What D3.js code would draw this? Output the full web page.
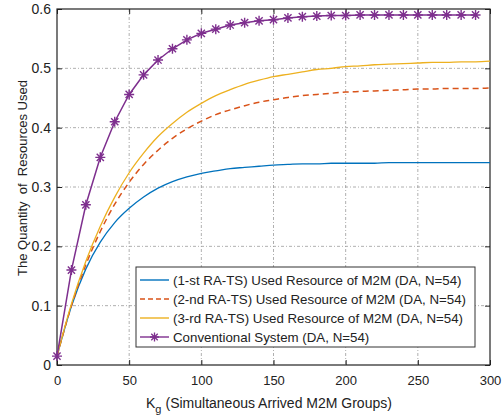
<!DOCTYPE html>
<html><head><meta charset="utf-8">
<script src="https://cdn.jsdelivr.net/npm/d3@7"></script>
<style>
body{margin:0;background:#fff;}
text{font-family:"Liberation Sans",Arial,sans-serif;fill:#222;}
</style></head>
<body><svg id="c" width="504" height="416"></svg>
<script>
const kValues = [0,10,20,30,40,50,60,70,80,90,100,110,120,130,140,150,160,170,180,190,200,210,220,230,240,250,260,270,280,290,300];
const ra1 = [0.015,0.099,0.162,0.207,0.240,0.264,0.283,0.298,0.309,0.317,0.323,0.327,0.331,0.333,0.335,0.337,0.338,0.339,0.339,0.340,0.340,0.340,0.340,0.341,0.341,0.341,0.341,0.341,0.341,0.341,0.341];
const ra2 = [0.015,0.100,0.169,0.225,0.271,0.308,0.338,0.362,0.382,0.398,0.411,0.422,0.430,0.437,0.443,0.447,0.451,0.454,0.456,0.458,0.460,0.461,0.462,0.463,0.464,0.465,0.465,0.466,0.466,0.466,0.467];
const ra3 = [0.015,0.103,0.175,0.234,0.283,0.324,0.357,0.385,0.407,0.426,0.441,0.454,0.464,0.473,0.480,0.486,0.490,0.494,0.498,0.500,0.503,0.504,0.506,0.507,0.508,0.509,0.510,0.510,0.511,0.511,0.512];
const convK = [0,10,20,30,40,50,60,70,80,90,100,110,120,130,140,150,160,170,180,190,200,210,220,230,240,250,260,270,280,290];
const conv = [0.015,0.160,0.270,0.350,0.410,0.456,0.489,0.514,0.533,0.548,0.559,0.566,0.573,0.577,0.580,0.582,0.585,0.587,0.588,0.589,0.589,0.590,0.590,0.590,0.590,0.590,0.590,0.590,0.590,0.590];
const xTicks = [0,50,100,150,200,250,300];
const yTicks = [0,0.1,0.2,0.3,0.4,0.5,0.6];
const legendLabels = ["(1-st RA-TS) Used Resource of M2M (DA, N=54)","(2-nd RA-TS) Used Resource of M2M (DA, N=54)","(3-rd RA-TS) Used Resource of M2M (DA, N=54)","Conventional System (DA, N=54)"];

const L=57,R=490,T=9,B=365;
const svg=d3.select("#c");
const x=d3.scaleLinear().domain([0,300]).range([L,R]);
const y=d3.scaleLinear().domain([0,0.6]).range([B,T]);

// grid
const g=svg.append("g");
g.selectAll(".gx").data(xTicks.slice(1,-1)).enter().append("line")
 .attr("x1",d=>x(d)).attr("x2",d=>x(d)).attr("y1",T).attr("y2",B)
 .attr("stroke","#9a9a9a").attr("stroke-width",0.8).attr("stroke-dasharray","3,2,1,2");
g.selectAll(".gy").data(yTicks.slice(1,-1)).enter().append("line")
 .attr("y1",d=>y(d)).attr("y2",d=>y(d)).attr("x1",L).attr("x2",R)
 .attr("stroke","#9a9a9a").attr("stroke-width",0.8).attr("stroke-dasharray","3,2,1,2");

// axes
const ax=svg.append("g").attr("transform",`translate(0,${B})`)
 .call(d3.axisBottom(x).tickValues(xTicks).tickSize(-5).tickPadding(11).tickFormat(d3.format("d")));
const ay=svg.append("g").attr("transform",`translate(${L},0)`)
 .call(d3.axisLeft(y).tickValues(yTicks).tickSize(-5).tickPadding(6).tickFormat(d=>d===0?"0":d3.format(".1f")(d)));
const ar=svg.append("g").attr("transform",`translate(${R},0)`)
 .call(d3.axisRight(y).tickValues(yTicks).tickSize(-5).tickFormat(""));
const at=svg.append("g").attr("transform",`translate(0,${T})`)
 .call(d3.axisTop(x).tickValues(xTicks).tickSize(-5).tickFormat(""));
[ax,ay,ar,at].forEach(a=>{a.select(".domain").remove();a.selectAll("line").attr("stroke","#222");});
ax.selectAll("text").attr("font-size",13).attr("fill","#222").attr("font-family","Liberation Sans, Arial");
ay.selectAll("text").attr("font-size",14).attr("fill","#222").attr("font-family","Liberation Sans, Arial");
svg.append("rect").attr("x",L).attr("y",T).attr("width",R-L).attr("height",B-T)
 .attr("fill","none").attr("stroke","#222").attr("stroke-width",1.2);

// lines
const line=(xs,ys)=>d3.line().x((d,i)=>x(xs[i])).y(d=>y(d)).curve(d3.curveMonotoneX)(ys);
const lineLin=(xs,ys)=>d3.line().x((d,i)=>x(xs[i])).y(d=>y(d))(ys);
svg.append("path").attr("d",line(kValues,ra1)).attr("fill","none").attr("stroke","#0072BD").attr("stroke-width",1.3);
svg.append("path").attr("d",line(kValues,ra2)).attr("fill","none").attr("stroke","#D95319").attr("stroke-width",1.5).attr("stroke-dasharray","6,4");
svg.append("path").attr("d",line(kValues,ra3)).attr("fill","none").attr("stroke","#EDB120").attr("stroke-width",1.3);
svg.append("path").attr("d",lineLin(convK,conv)).attr("fill","none").attr("stroke","#7E2F8E").attr("stroke-width",1.5);

function star(s){const a=s/2,b=a*0.72;return `M${-a},0L${a},0M0,${-a}L0,${a}M${-b},${-b}L${b},${b}M${-b},${b}L${b},${-b}`;}
svg.selectAll(".mk").data(conv).enter().append("path")
 .attr("transform",(d,i)=>`translate(${x(convK[i])},${y(d)})`)
 .attr("d",star(10)).attr("fill","none").attr("stroke","#7E2F8E").attr("stroke-width",1.4);

// legend
const lg=svg.append("g");
lg.append("rect").attr("x",136).attr("y",267).attr("width",339).attr("height",80)
 .attr("fill","#fff").attr("stroke","#333").attr("stroke-width",1);
const cols=["#0072BD","#D95319","#EDB120","#7E2F8E"];
const dashes=[null,"5,3",null,null];
legendLabels.forEach((t,i)=>{
 const yy=280+i*19;
 const ln=lg.append("line").attr("x1",140).attr("x2",169).attr("y1",yy).attr("y2",yy)
  .attr("stroke",cols[i]).attr("stroke-width",1.4);
 if(dashes[i]) ln.attr("stroke-dasharray",dashes[i]);
 if(i===3) lg.append("path").attr("transform",`translate(154.5,${yy})`).attr("d",star(9)).attr("fill","none").attr("stroke",cols[i]).attr("stroke-width",1.3);
 lg.append("text").attr("x",173).attr("y",yy+5).attr("font-size",13.3).text(t);
});

// axis labels
const xl=svg.append("text").attr("x",146).attr("y",408).attr("font-size",14);
xl.append("tspan").text("K");
xl.append("tspan").attr("dy",5).attr("font-size",11).text("g");
xl.append("tspan").attr("dy",-5).attr("dx",4).text("(Simultaneous Arrived M2M Groups)");
svg.append("text").attr("transform","translate(27,178) rotate(-90)").attr("text-anchor","middle")
 .attr("font-size",13).style("white-space","pre").text("The Quantity  of  Resources Used");
</script></body></html>
